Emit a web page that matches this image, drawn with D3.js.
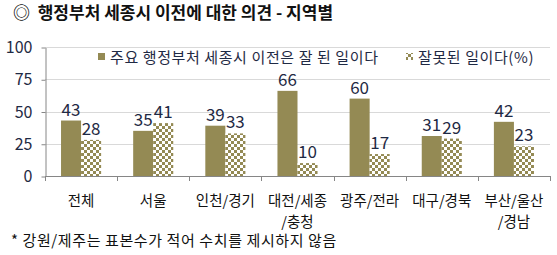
<!DOCTYPE html>
<html><head><meta charset="utf-8">
<script src="https://cdn.jsdelivr.net/npm/d3@7"></script>
<style>
body{margin:0;background:#fff}
svg{display:block}
text{font-family:"Noto Sans CJK KR","Noto Sans",sans-serif}
</style>
</head><body><svg id="c" width="557" height="255"></svg>
<script>
const categories = ["전체","서울","인천/경기","대전/세종\n/충청","광주/전라","대구/경북","부산/울산\n/경남"];
const goodValues = [43,35,39,66,60,31,42];
const badValues = [28,41,33,10,17,29,23];
const yTicks = [0,25,50,75,100];
const seriesNames = ["주요 행정부처 세종시 이전은 잘 된 일이다","잘못된 일이다(%)"];
const titleText = "◎  행정부처 세종시 이전에 대한 의견 - 지역별";
const noteText = "* 강원/제주는 표본수가 적어 수치를 제시하지 않음";

const olive = "#948A54", navy = "#1F2A44", axisCol = "#868686", gridCol = "#D9D9D9";
const svg = d3.select("#c");

const defs = svg.append("defs");
const pat = defs.append("pattern").attr("id","chk").attr("patternUnits","userSpaceOnUse")
  .attr("width",6).attr("height",6);
pat.append("rect").attr("width",6).attr("height",6).attr("fill","#fff");
pat.append("rect").attr("width",3).attr("height",3).attr("fill",olive);
pat.append("rect").attr("x",3).attr("y",3).attr("width",3).attr("height",3).attr("fill",olive);

const x = d3.scaleBand().domain(categories).range([45,550]).padding(0);
const x1 = d3.scaleBand().domain([0,1]).range([0,x.bandwidth()]).paddingInner(0).paddingOuter(0.8);
const y = d3.scaleLinear().domain([0,100]).range([176,47]);

// title
svg.append("text").attr("x",13).attr("y",19).attr("font-size",17).attr("font-weight","bold")
  .attr("fill","#111").attr("xml:space","preserve").style("white-space","pre").text(titleText);

// gridlines
svg.append("g").selectAll("line").data(yTicks.filter(d=>d>0)).join("line")
  .attr("x1",45).attr("x2",550).attr("y1",d=>Math.round(y(d))+0.5).attr("y2",d=>Math.round(y(d))+0.5)
  .attr("stroke",gridCol);

// y axis
const ya = svg.append("g").attr("transform","translate(45.5,0.5)")
  .call(d3.axisLeft(y).tickValues(yTicks).tickSize(4).tickPadding(9).tickSizeOuter(0));
ya.select(".domain").attr("stroke",axisCol);
ya.selectAll(".tick line").attr("stroke",axisCol);
ya.selectAll(".tick text").attr("font-size",16).attr("fill",navy).attr("font-family",'"Noto Sans CJK KR",sans-serif');

// bars
const g = svg.append("g");
categories.forEach((c,i)=>{
  const vals = [goodValues[i], badValues[i]];
  vals.forEach((v,j)=>{
    const bx = x(c)+x1(j);
    g.append("rect").attr("x",bx).attr("y",y(v)).attr("width",x1.bandwidth()).attr("height",y(0)-y(v))
      .attr("fill", j===0 ? olive : "url(#chk)");
    g.append("text").attr("x",bx+x1.bandwidth()/2).attr("y",y(v)-5).attr("text-anchor","middle")
      .attr("font-size",17).attr("fill",navy).text(v);
  });
});

// x axis line + ticks at band boundaries
const bounds = categories.map(c=>x(c)).concat([x.range()[1]]);
svg.append("line").attr("x1",45).attr("x2",550).attr("y1",y(0)+0.5).attr("y2",y(0)+0.5).attr("stroke",axisCol);
svg.append("g").selectAll("line").data(bounds).join("line")
  .attr("x1",d=>Math.round(d)+0.5).attr("x2",d=>Math.round(d)+0.5)
  .attr("y1",y(0)).attr("y2",y(0)+5).attr("stroke",axisCol);

// category labels
categories.forEach(c=>{
  const lines = c.split("\n");
  const t = svg.append("text").attr("text-anchor","middle").attr("font-size",14.5).attr("fill","#111");
  lines.forEach((l,k)=>{
    t.append("tspan").attr("x",x(c)+x.bandwidth()/2).attr("y",206+k*21).text(l);
  });
});

// legend
const leg = [{x:98,fill:olive,name:seriesNames[0]},{x:406,fill:"url(#chk)",name:seriesNames[1]}];
leg.forEach(d=>{
  svg.append("rect").attr("x",d.x).attr("y",53).attr("width",7).attr("height",7).attr("fill",d.fill);
  svg.append("text").attr("x",d.x+12).attr("y",63).attr("font-size",15).attr("letter-spacing",0.6)
    .attr("fill",navy).text(d.name);
});

// footnote
svg.append("text").attr("x",11).attr("y",246).attr("font-size",15).attr("letter-spacing",0.6)
  .attr("fill","#111").text(noteText);
</script>
</body></html>
